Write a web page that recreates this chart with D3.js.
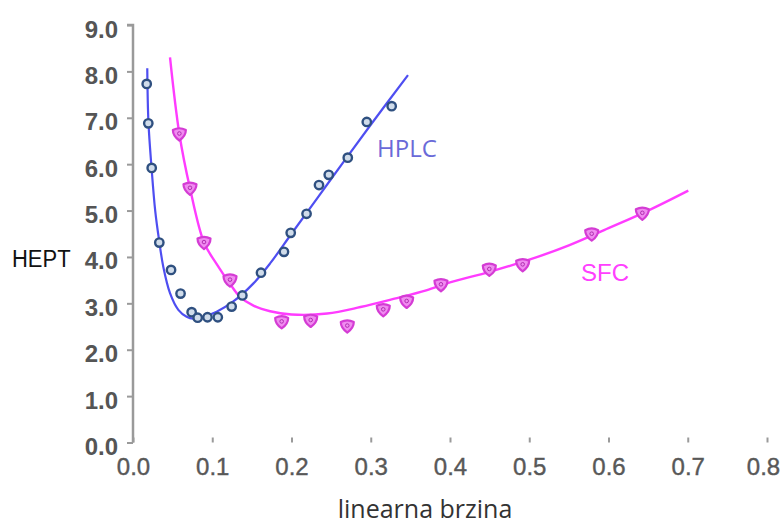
<!DOCTYPE html>
<html><head><meta charset="utf-8">
<script src="https://cdn.jsdelivr.net/npm/d3@7"></script>
<style>body{margin:0;background:#fff}svg{display:block}</style>
</head><body><svg id="c" width="782" height="525"></svg>
<script>
const xTicks = [0,0.1,0.2,0.3,0.4,0.5,0.6,0.7,0.8];
const yTicks = [0,1,2,3,4,5,6,7,8,9];
const hplcX = [0.0173,0.0193,0.0236,0.0332,0.048,0.060,0.074,0.0816,0.094,0.107,0.1245,0.138,0.1615,0.1905,0.199,0.219,0.2347,0.247,0.271,0.295,0.3264];
const hplcY = [7.73,6.88,5.92,4.31,3.72,3.21,2.81,2.69,2.70,2.70,2.93,3.17,3.66,4.11,4.52,4.93,5.55,5.77,6.14,6.91,7.25];
const sfcX = [0.0585,0.0719,0.0896,0.1224,0.1876,0.2242,0.2704,0.3158,0.3453,0.3886,0.4496,0.4917,0.5788,0.6427];
const sfcY = [6.65,5.48,4.31,3.50,2.60,2.63,2.51,2.86,3.04,3.40,3.73,3.83,4.49,4.94];
const hplcCurveX = [0.018,0.0195,0.0235,0.028,0.033,0.0382,0.0467,0.0572,0.0677,0.076,0.0887,0.1056,0.1266,0.152,0.173,0.2,0.25,0.3,0.347];
const hplcCurveY = [8.07,6.9,5.9,5.0,4.35,3.79,3.22,2.86,2.71,2.67,2.71,2.82,3.04,3.43,3.86,4.5,5.68,6.85,7.92];
const sfcCurveX = [0.0467,0.0585,0.0719,0.0896,0.105,0.122,0.135,0.152,0.173,0.2,0.245,0.287,0.33,0.37,0.4,0.45,0.5,0.55,0.6,0.65,0.7007];
const sfcCurveY = [8.30,6.65,5.48,4.31,3.86,3.43,3.14,2.95,2.83,2.76,2.78,2.92,3.1,3.28,3.45,3.68,3.94,4.25,4.62,5.0,5.43];

const svg = d3.select('#c');
const x = d3.scaleLinear().domain([0,0.8]).range([133,767]);
const y = d3.scaleLinear().domain([0,9]).range([442.5,25]);
const axisColor = '#9a9a9a';

// axes
const gy = svg.append('g').attr('transform','translate(133,0)')
  .call(d3.axisLeft(y).tickValues(yTicks).tickSize(6).tickFormat(d3.format('.1f')));
const gx = svg.append('g').attr('transform','translate(0,442.5)')
  .call(d3.axisBottom(x).tickValues(xTicks).tickSize(-5).tickFormat(d3.format('.1f')));
[gx,gy].forEach(g=>{
  g.select('.domain').attr('stroke',axisColor).attr('stroke-width',2.5);
  g.selectAll('.tick line').attr('stroke',axisColor).attr('stroke-width',2);
  g.selectAll('.tick text').attr('fill','#555').attr('font-family','Liberation Sans, Arial, sans-serif')
   .attr('font-size',24).attr('font-weight','bold');
});
gy.select('.domain').attr('d','M-6,25H0V442.5');
gx.select('.domain').attr('d','M133,442.5H767');
gy.selectAll('.tick text').attr('x',-15).attr('dy','0.5em');
gx.selectAll('.tick text').attr('y',15).attr('font-weight','normal').attr('font-size',24)
  .attr('fill','#585858').attr('stroke','#585858').attr('stroke-width',0.4)
  .attr('x',d=>d===0.8?-4:0);

const line = d3.line().x(d=>x(d[0])).y(d=>y(d[1])).curve(d3.curveCatmullRom.alpha(0.5));
svg.append('path').datum(hplcCurveX.map((v,i)=>[v,hplcCurveY[i]]))
  .attr('d',line).attr('fill','none').attr('stroke','#3b3bf0').attr('stroke-width',2.2).attr('opacity',0.9);
svg.append('path').datum(sfcCurveX.map((v,i)=>[v,sfcCurveY[i]]))
  .attr('d',line).attr('fill','none').attr('stroke','#ff3cff').attr('stroke-width',2.4);

// HPLC markers
svg.append('g').selectAll('circle').data(hplcX.map((v,i)=>[v,hplcY[i]])).join('circle')
  .attr('cx',d=>x(d[0])).attr('cy',d=>y(d[1])).attr('r',4.2)
  .attr('fill','#d0dcea').attr('stroke','#2f5080').attr('stroke-width',2.4);
// SFC markers (rounded down-pointing triangles)
const tri = 'M-6.5,-4 Q0,-7.5 6.5,-4 Q6.5,2 0,6.5 Q-6.5,2 -6.5,-4Z';
svg.append('g').selectAll('path').data(sfcX.map((v,i)=>[v,sfcY[i]])).join('path')
  .attr('d',tri).attr('transform',d=>`translate(${x(d[0])},${y(d[1])})`)
  .attr('fill','#f08cf0').attr('stroke','#d43cd4').attr('stroke-width',2.2).attr('stroke-linejoin','round');
svg.append('g').selectAll('circle').data(sfcX.map((v,i)=>[v,sfcY[i]])).join('circle')
  .attr('cx',d=>x(d[0])).attr('cy',d=>y(d[1])-0.5).attr('r',1.8)
  .attr('fill','none').attr('stroke','#b030b0').attr('stroke-width',1);

// labels
svg.append('text').attr('x',377).attr('y',157).text('HPLC')
  .attr('font-family','Open Sans, sans-serif').attr('font-size',24).attr('fill','#6a6ad8');
svg.append('text').attr('x',581).attr('y',281).text('SFC')
  .attr('font-family','Liberation Sans, Arial, sans-serif').attr('font-size',24).attr('fill','#ff40ff');
svg.append('text').attr('x',12).attr('y',267).text('HEPT')
  .attr('font-family','Liberation Sans, Arial, sans-serif').attr('font-size',22).attr('fill','#111')
  .attr('transform','translate(12,267) scale(1,1.12) translate(-12,-267)');
svg.append('text').attr('x',425).attr('y',518).attr('text-anchor','middle').text('linearna brzina')
  .attr('font-family','Open Sans, sans-serif').attr('font-size',25).attr('fill','#333');
</script></body></html>
